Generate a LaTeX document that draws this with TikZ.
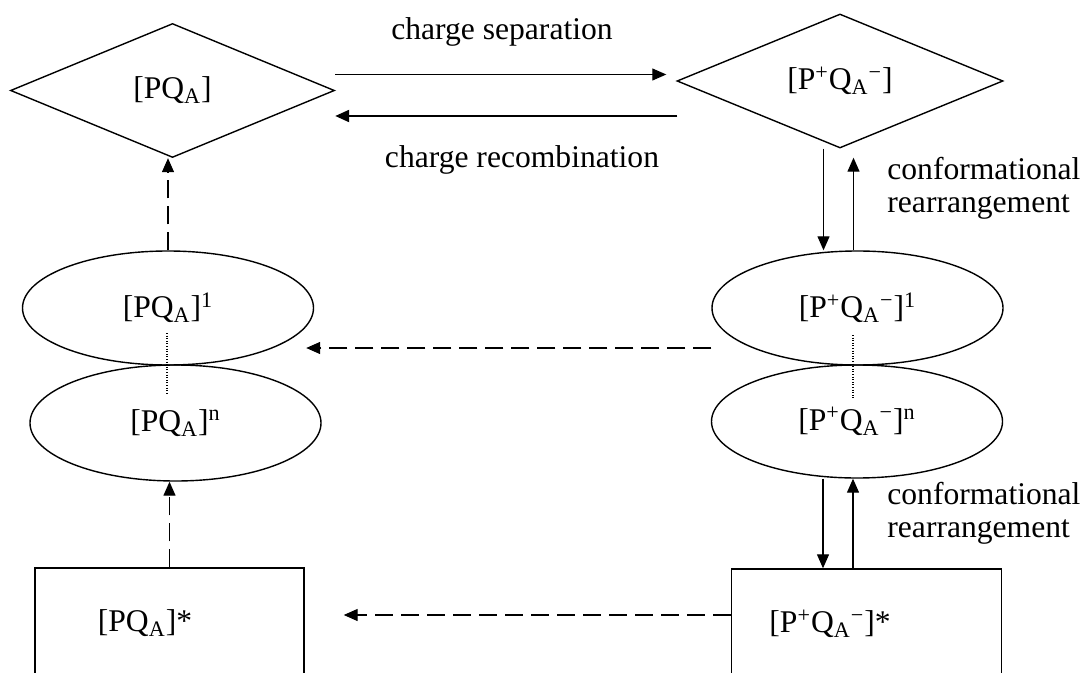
\documentclass[tikz,border=0pt]{standalone}
\usepackage{fontspec}
\setmainfont{Liberation Serif}
\usetikzlibrary{positioning,calc,shapes.geometric,arrows.meta}
\tikzset{
    schema/.style={
        x=0.5pt, y=-0.5pt,
        font=\fontsize{15.8}{16.5}\selectfont,
        % Stile per stati di base (rombo)
        base/.style={draw, diamond, line width=0.7pt, inner sep=0pt,
                     minimum width=162pt, minimum height=67pt},
        % Stile per stati conformazionali (ellisse)
        conf/.style={draw, ellipse, line width=0.7pt, inner sep=0pt,
                     minimum width=145.5pt, minimum height=57pt},
        % Stile per stati rilassati (rettangolo)
        relax/.style={draw, rectangle, line width=0.7pt, inner sep=0pt,
                      minimum width=135pt, minimum height=55pt},
        % Stile per frecce
        arr/.style={-{Triangle[length=7pt,width=6pt]}, line width=0.65pt},
        darr/.style={arr, dash pattern=on 9pt off 4pt},
        dots/.style={line width=0.55pt, dash pattern=on 0.5pt off 0.8pt},
        lbl/.style={inner sep=0pt, align=left}
    }
}

\begin{document}
\begin{tikzpicture}[schema]
    \useasboundingbox (0,0) rectangle (1085,673);
    % stati
    \node[base] (dPQ) at (172.5,90.5) {[PQ\textsubscript{A}]};
    \node[base, minimum width=163pt] (dPQm) at (840,81)
        {[P\textsuperscript{+}Q\textsubscript{A}\textsuperscript{−}]};
    \node[conf] (ePQ1) at (168,308) {[PQ\textsubscript{A}]\textsuperscript{1}};
    \node[conf, minimum height=58pt] (ePQn) at (175.5,423)
        {[PQ\textsubscript{A}]\textsuperscript{n}};
    \node[conf] (ePQm1) at (857.5,308)
        {[P\textsuperscript{+}Q\textsubscript{A}\textsuperscript{−}]\textsuperscript{1}};
    \node[conf, minimum height=56.5pt] (ePQmn) at (857,421.5)
        {[P\textsuperscript{+}Q\textsubscript{A}\textsuperscript{−}]\textsuperscript{n}};
    \node[relax, minimum width=134.5pt] (bPQ) at (169.5,623) {};
    \node[relax] (bPQm) at (866.5,624) {};
    \node[lbl] (tPQ) at (145,623) {[PQ\textsubscript{A}]*};
    \node[lbl] (tPQm) at (830,624)
        {[P\textsuperscript{+}Q\textsubscript{A}\textsuperscript{−}]*};

    % separazione e ricombinazione
    \coordinate (cs) at ($(dPQ.east)+(0,-16)$);
    \draw[arr, line width=0.55pt, shorten >=5pt] (cs) -- (cs -| dPQm.west);
    \coordinate (cr) at ($(dPQm.west)+(1,35)$);
    \draw[arr, line width=1.1pt] (cr) -- (cr -| dPQ.east);
    \node[lbl] (lsep) at (502,32) {charge separation};
    \node[lbl] (lrec) at (522,160) {charge recombination};

    % riarrangiamenti conformazionali
    \coordinate (cd1) at ($(ePQm1.north)+(-34,0)$);
    \draw[arr] (cd1 |- dPQm.south) -- (cd1);
    \coordinate (cu1) at ($(ePQm1.north)+(-4,0)$);
    \draw[arr, shorten >=4.5pt] (cu1) -- (cu1 |- dPQm.south);
    \node[lbl, anchor=west] (lconf1) at (887,188) {conformational\\rearrangement};
    \coordinate (cd2) at ($(bPQm.north)+(-43.5,0)$);
    \draw[arr] (cd2 |- ePQmn.south) -- (cd2);
    \coordinate (cu2) at ($(bPQm.north)+(-13.5,0)$);
    \draw[arr] (cu2) -- (cu2 |- ePQmn.south);
    \node[lbl, anchor=west] (lconf2) at (887,513) {conformational\\rearrangement};

    % serie di stati
    \coordinate (dl) at ($(ePQ1.center)+(-1,25)$);
    \draw[dots, shorten >=15pt] (dl) -- (dl |- ePQn.center);
    \coordinate (dr) at ($(ePQm1.center)+(-4.5,27)$);
    \draw[dots, shorten >=12pt] (dr) -- (dr |- ePQmn.center);

    % rilassamenti (tratteggiati)
    \draw[darr] (bPQ.north) -- (bPQ.north |- ePQn.south);
    \draw[darr] (ePQ1.north) -- (ePQ1.north |- dPQ.south);
    \coordinate (cm) at ($(ePQm1.west)+(0,40)$);
    \draw[darr, shorten >=-4pt] (cm) -- (cm -| ePQ1.east);
    \coordinate (cb) at ($(bPQm.west)+(0,-9)$);
    \draw[darr, shorten >=19.5pt] (cb) -- (cb -| bPQ.east);
\end{tikzpicture}
\end{document}
